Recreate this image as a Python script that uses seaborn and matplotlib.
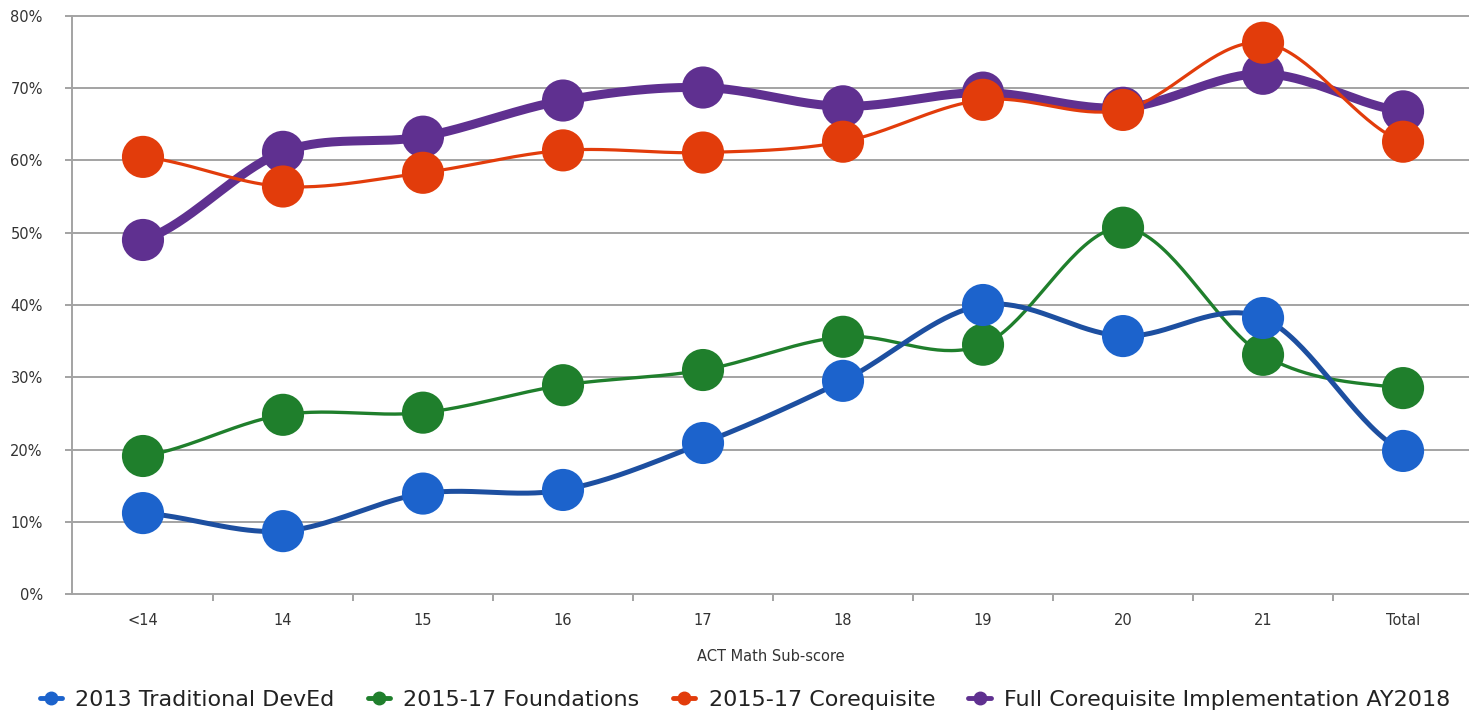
import numpy as np
import pandas as pd
import matplotlib
matplotlib.use("Agg")
import matplotlib.pyplot as plt
from matplotlib.lines import Line2D
import seaborn as sns

# ACT math sub-score bands and success rates (%) per cohort
categories = ["<14", "14", "15", "16", "17", "18", "19", "20", "21", "Total"]
trad_deved_2013 = [11.2, 8.7, 13.9, 14.4, 20.9, 29.5, 40.0, 35.7, 38.2, 19.8]
foundations_1517 = [19.1, 24.8, 25.1, 28.9, 31.0, 35.6, 34.5, 50.7, 33.1, 28.5]
coreq_1517 = [60.5, 56.4, 58.3, 61.4, 61.1, 62.6, 68.4, 67.0, 76.3, 62.6]
full_coreq_2018 = [49.0, 61.2, 63.3, 68.3, 70.1, 67.5, 69.4, 67.3, 72.0, 66.8]

series_names = [
    "2013 Traditional DevEd",
    "2015-17 Foundations",
    "2015-17 Corequisite",
    "Full Corequisite Implementation AY2018",
]
series_values = [trad_deved_2013, foundations_1517, coreq_1517, full_coreq_2018]
marker_colors = ["#1c63cc", "#1f7f2c", "#e23c0b", "#5f3090"]
line_colors = ["#1d4fa0", "#1f7f2c", "#e23c0b", "#5f3090"]
line_widths = [3.6, 2.4, 2.3, 6.5]


def smooth(y, n=40, tension=0.5):
    """Cardinal spline through evenly spaced points."""
    y = np.asarray(y, dtype=float)
    x = np.arange(len(y), dtype=float)
    yp = np.concatenate([[y[0]], y, [y[-1]]])
    xs, ys = [], []
    for i in range(len(y) - 1):
        p0, p1, p2, p3 = yp[i], yp[i + 1], yp[i + 2], yp[i + 3]
        m1 = tension * (p2 - p0)
        m2 = tension * (p3 - p1)
        t = np.linspace(0, 1, n, endpoint=(i == len(y) - 2))
        h00 = 2 * t**3 - 3 * t**2 + 1
        h10 = t**3 - 2 * t**2 + t
        h01 = -2 * t**3 + 3 * t**2
        h11 = t**3 - t**2
        ys.append(h00 * p1 + h10 * m1 + h01 * p2 + h11 * m2)
        xs.append(x[i] + t)
    return np.concatenate(xs), np.concatenate(ys)


sns.set_style("white")
plt.rcParams["font.family"] = ["DejaVu Sans"]

W, H = 1469, 717
fig = plt.figure(figsize=(W / 100, H / 100), dpi=100)
ax = fig.add_axes([72 / W, (H - 594) / H, (W - 72) / W, (594 - 16) / H])

grid_color = "#a3a3a3"
for yv in range(10, 81, 10):
    ax.axhline(yv, color=grid_color, lw=1.4, zorder=0, clip_on=False)

# draw in reverse so the first series ends up on top
for idx in reversed(range(len(series_names))):
    xs, ys = smooth(series_values[idx])
    curve = pd.DataFrame({"x": xs, "y": ys})
    sns.lineplot(data=curve, x="x", y="y", ax=ax, color=line_colors[idx],
                 lw=line_widths[idx], sort=False, zorder=2,
                 solid_capstyle="round")
    pts = pd.DataFrame({"x": np.arange(len(categories)), "y": series_values[idx]})
    sns.scatterplot(data=pts, x="x", y="y", ax=ax, color=marker_colors[idx],
                    s=920, edgecolor="none", zorder=3, linewidth=0)

ax.set_xlim(-0.507, 9.471)
ax.set_ylim(0, 80)
ax.set_yticks(range(0, 81, 10))
ax.set_yticklabels([f"{v}%" for v in range(0, 81, 10)])
ax.set_xticks(range(len(categories)))
ax.set_xticklabels(categories)
ax.set_xticks(np.arange(0.5, len(categories) - 1, 1.0), minor=True)

ax.tick_params(axis="x", which="major", length=0, pad=14, labelsize=10.5,
               labelcolor="#333333")
ax.tick_params(axis="x", which="minor", length=5, width=1.4, color=grid_color,
               direction="out", bottom=True)
ax.tick_params(axis="y", length=5, width=1.4, color=grid_color, pad=16,
               labelsize=10.5, labelcolor="#333333", left=True)

for side in ["top", "right"]:
    ax.spines[side].set_visible(False)
for side in ["left", "bottom"]:
    ax.spines[side].set_color(grid_color)
    ax.spines[side].set_linewidth(1.4)

ax.set_xlabel("ACT Math Sub-score", fontsize=10.5, color="#333333", labelpad=15)
ax.set_ylabel("")

handles = [
    Line2D([0], [0], color=c, lw=3.5, marker="o", markersize=9,
           markerfacecolor=c, markeredgecolor=c)
    for c in marker_colors
]
fig.legend(handles, series_names, loc="center", ncol=4,
           bbox_to_anchor=(745 / W, (H - 700) / H), frameon=False,
           fontsize=16, handlelength=1.0, handletextpad=0.6,
           columnspacing=1.5, labelcolor="#222222")

fig.savefig("out.png", dpi=100)
